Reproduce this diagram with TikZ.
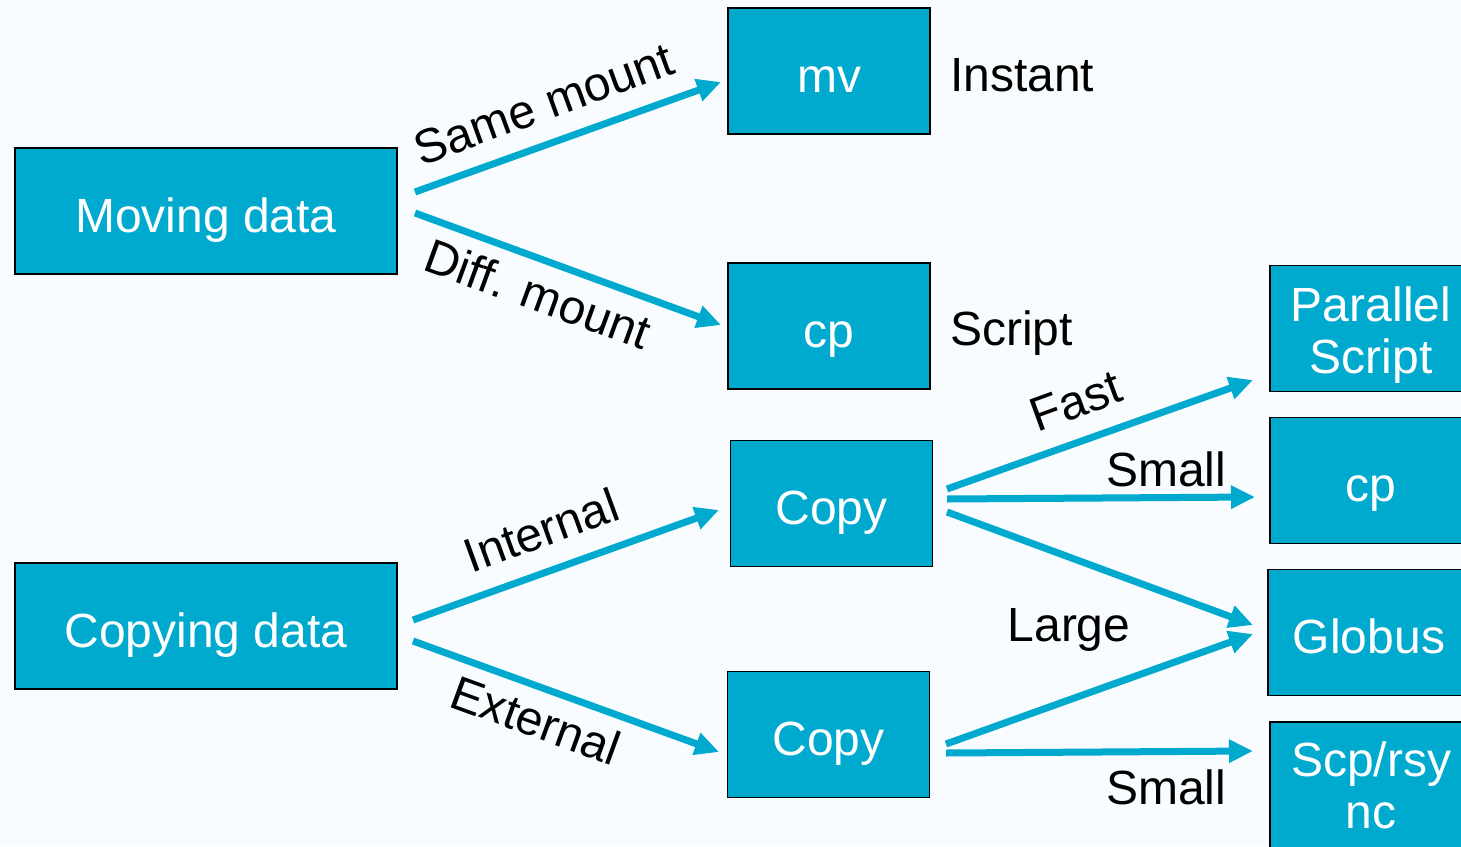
\documentclass[tikz,border=0pt]{standalone}
\usepackage{fontspec}
\setmainfont{Liberation Sans}
\usetikzlibrary{arrows.meta}
\definecolor{boxblue}{RGB}{0,170,207}
\definecolor{arrowblue}{RGB}{0,169,206}
\definecolor{bg}{RGB}{248,252,254}
\begin{document}
\begin{tikzpicture}[x=1pt,y=-1pt,
  box/.style={draw=black, line width=1.5pt, fill=boxblue, text=white, inner sep=0pt,
    minimum width=202pt, minimum height=126pt, align=center,
    font=\fontsize{48}{54}\selectfont},
  onebox/.style={box, text height=44pt, text depth=2pt},
  lbl/.style={text=black, inner sep=0pt, font=\fontsize{48}{54}\selectfont},
  arr/.style={draw=arrowblue, line width=7pt, -{Triangle[length=24pt,width=22pt]}}]
\useasboundingbox[fill=bg] (0,0) rectangle (1461,846);
% boxes
\node[onebox, minimum width=382pt] (moving) at (206,211) {Moving data};
\node[onebox, minimum width=382pt] (copying) at (206,626) {Copying data};
\node[onebox] (mv) at (829,71) {mv};
\node[onebox] (cpm) at (829,326) {cp};
\node[onebox] (copy1) at (831.5,503.5) {Copy};
\node[onebox] (copy2) at (828.5,734.5) {Copy};
\node[box] (par) at (1371,328.5) {\raisebox{-8pt}[\height][\depth]{\begin{tabular}{@{}c@{}}Parallel\\[-2pt]Script\end{tabular}}};
\node[onebox] (cpr) at (1371,480.5) {cp};
\node[onebox] (globus) at (1369,632.5) {Globus};
\node[box] (scp) at (1371,785) {\raisebox{-7pt}[\height][\depth]{\begin{tabular}{@{}c@{}}Scp/rsy\\[-2pt]nc\end{tabular}}};
% arrow end points
\coordinate (a1s) at (415,192); \coordinate (a1e) at (721,82);
\coordinate (a2s) at (415,213); \coordinate (a2e) at (721,325);
\coordinate (a3s) at (413,620); \coordinate (a3e) at (719,510);
\coordinate (a4s) at (413,641); \coordinate (a4e) at (719,752);
\coordinate (a5s) at (947,489); \coordinate (a5e) at (1253,380);
\coordinate (a6s) at (947,499); \coordinate (a6e) at (1255,497);
\coordinate (a7s) at (947,512); \coordinate (a7e) at (1253,625);
\coordinate (a8s) at (946,744); \coordinate (a8e) at (1253,634);
\coordinate (a9s) at (946,753); \coordinate (a9e) at (1253,751);
\draw[arr] (a1s) -- (a1e);
\draw[arr] (a2s) -- (a2e);
\draw[arr] (a3s) -- (a3e);
\draw[arr] (a4s) -- (a4e);
\draw[arr] (a5s) -- (a5e);
\draw[arr] (a6s) -- (a6e);
\draw[arr] (a7s) -- (a7e);
\draw[arr] (a8s) -- (a8e);
\draw[arr] (a9s) -- (a9e);
% labels
\node[lbl, rotate=20] (l1) at (544,104) {Same mount};
\node[lbl, rotate=-20] (l2) at (538,294) {Diff. mount};
\node[lbl, rotate=20] (l3) at (541,530) {Internal};
\node[lbl, rotate=-20] (l4) at (536,720) {External};
\node[lbl, rotate=20] (l5) at (1076,401) {Fast};
\node[lbl, anchor=base] (l6) at (1166,486) {Small};
\node[lbl, anchor=base] (l7) at (1069,641) {Large};
\node[lbl, anchor=base] (l8) at (1166,804) {Small};
\node[lbl, anchor=base west] (l9) at (950,91) {Instant};
\node[lbl, anchor=base west] (l10) at (950,345) {Script};
\end{tikzpicture}
\end{document}
